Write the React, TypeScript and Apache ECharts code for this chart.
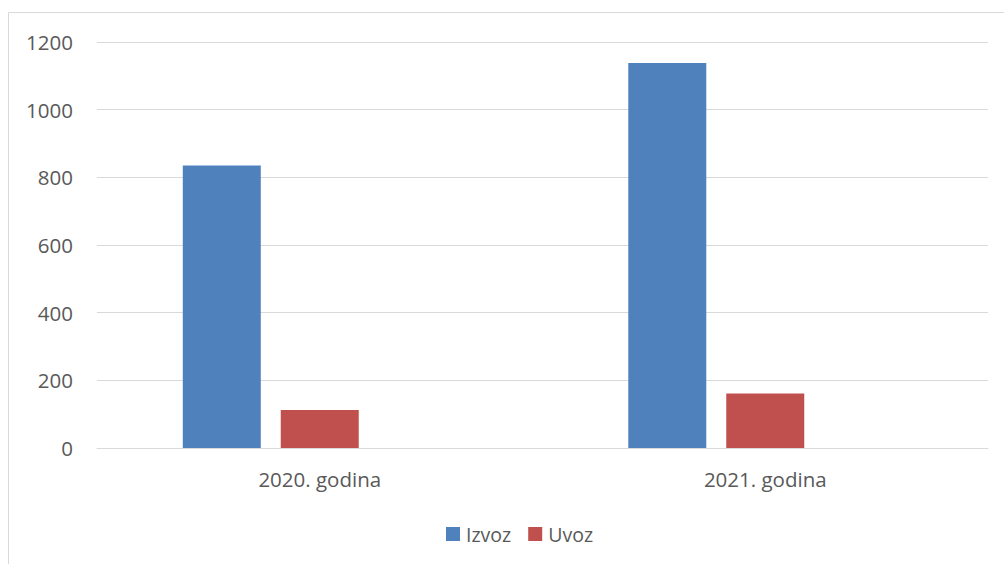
import React, { useEffect, useRef } from "react";
import * as echarts from "echarts";

const categories = ["2020. godina", "2021. godina"];
const izvoz = [835, 1138];
const uvoz = [112, 161];
const empty = [null, null];
const yTicks = { min: 0, max: 1200, interval: 200 };

const FONT = "'Open Sans', 'Noto Sans', sans-serif";
const TEXT = "#595959";
const FS = 20.5;

export default function App() {
  const ref = useRef<HTMLDivElement>(null);
  useEffect(() => {
    if (!ref.current) return;
    const chart = echarts.init(ref.current, null, { renderer: "svg" });
    chart.setOption({
      animation: false,
      backgroundColor: "#ffffff",
      textStyle: { fontFamily: FONT },
      graphic: [
        {
          type: "rect",
          shape: { x: 8.5, y: 12.5, width: 1020, height: 580 },
          style: { fill: "none", stroke: "#d9d9d9", lineWidth: 1 },
          silent: true,
        },
      ],
      grid: { left: 97, right: 16, top: 42, bottom: 116, containLabel: false },
      legend: {
        data: ["Izvoz", "Uvoz"],
        left: 441,
        top: 519,
        itemWidth: 14,
        itemHeight: 14,
        itemGap: 17,
        icon: "rect",
        textStyle: { color: TEXT, fontSize: 19.5, fontFamily: FONT, padding: [0, 0, 0, 1] },
      },
      xAxis: {
        type: "category",
        data: categories,
        axisLine: { show: true, lineStyle: { color: "#d9d9d9", width: 1 } },
        axisTick: { show: false },
        axisLabel: { color: TEXT, fontSize: FS, fontFamily: FONT, margin: 20 },
      },
      yAxis: {
        type: "value",
        min: yTicks.min,
        max: yTicks.max,
        interval: yTicks.interval,
        axisLine: { show: false },
        axisTick: { show: false },
        splitLine: { lineStyle: { color: "#d9d9d9", width: 1 } },
        axisLabel: {
          color: TEXT,
          fontSize: FS,
          fontFamily: FONT,
          margin: 24,
          formatter: (v: number) => String(v),
        },
      },
      series: [
        { name: "Izvoz", type: "bar", data: izvoz, barWidth: 78, barGap: "25.6%", itemStyle: { color: "#4f81bd" } },
        { name: "Uvoz", type: "bar", data: uvoz, barWidth: 78, barGap: "25.6%", itemStyle: { color: "#c0504d" } },
        { name: "", type: "bar", data: empty, barWidth: 78, barGap: "25.6%", itemStyle: { color: "#9bbb59" } },
      ],
    });
    return () => chart.dispose();
  }, []);
  return (
    <div
      ref={ref}
      style={{ position: "absolute", left: 0, top: 0, width: 1004, height: 564 }}
    />
  );
}
